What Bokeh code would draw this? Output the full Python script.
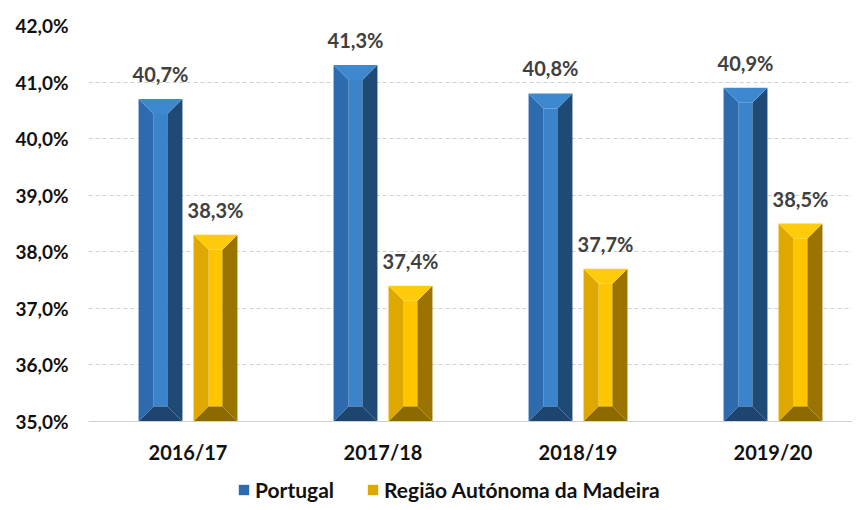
from bokeh.plotting import figure
from bokeh.layouts import column
from bokeh.models import Range1d, FixedTicker, ColumnDataSource, Legend, LegendItem
from bokeh.embed import file_html
from bokeh.resources import INLINE

# ---- data ----
categories = ["2016/17", "2017/18", "2018/19", "2019/20"]
portugal = [40.7, 41.3, 40.8, 40.9]
madeira = [38.3, 37.4, 37.7, 38.5]
series_names = ["Portugal", "Região Autónoma da Madeira"]
y_ticks = [35, 36, 37, 38, 39, 40, 41, 42]

BASE = 35.0
BAR_W = 0.225
OFFSETS = [-0.141, 0.141]
BX = 0.077   # horizontal bevel (x units)
BY = 0.265   # vertical bevel (y units)

# face colours
BLUE = dict(left="#2D6BAE", center="#3B83CA", right="#1F4A76", top="#3E88CF", bottom="#1E4570")
GOLD = dict(left="#DFA800", center="#FFC600", right="#9B7400", top="#FFCB0A", bottom="#8C6A00")

FONT = "Lato"
FS = "19px"
W = 852
LEFT = 88

p = figure(width=W, height=470, output_backend="svg", toolbar_location=None,
           x_range=Range1d(-0.0103, 3.9077), y_range=Range1d(BASE, 42),
           min_border_left=LEFT, min_border_right=0, min_border_top=25, min_border_bottom=49)
p.outline_line_color = None


def faces(vals, off):
    out = {k: ([], []) for k in ("left", "center", "right", "top", "bottom")}
    for i, v in enumerate(vals):
        c = i + 0.5 + off
        x0, x1 = c - BAR_W / 2, c + BAR_W / 2
        y0, y1 = BASE, v
        out["left"][0].append([x0, x0, x0 + BX, x0 + BX])
        out["left"][1].append([y0, y1, y1 - BY, y0 + BY])
        out["right"][0].append([x1, x1, x1 - BX, x1 - BX])
        out["right"][1].append([y0, y1, y1 - BY, y0 + BY])
        out["top"][0].append([x0, x1, x1 - BX, x0 + BX])
        out["top"][1].append([y1, y1, y1 - BY, y1 - BY])
        out["bottom"][0].append([x0, x1, x1 - BX, x0 + BX])
        out["bottom"][1].append([y0, y0, y0 + BY, y0 + BY])
        out["center"][0].append([x0 + BX, x1 - BX, x1 - BX, x0 + BX])
        out["center"][1].append([y0 + BY, y0 + BY, y1 - BY, y1 - BY])
    return out


for vals, off, cols in [(portugal, OFFSETS[0], BLUE), (madeira, OFFSETS[1], GOLD)]:
    f = faces(vals, off)
    for k in ("center", "left", "right", "top", "bottom"):
        xs, ys = f[k]
        p.patches(xs, ys, fill_color=cols[k], line_color=None)
    src = ColumnDataSource(dict(
        x=[i + 0.5 + off for i in range(len(vals))],
        y=vals,
        t=[f"{v:.1f}".replace(".", ",") + "%" for v in vals]))
    p.text(x="x", y="y", text="t", source=src, text_align="center",
           text_baseline="alphabetic", y_offset=-25,
           text_font={"value": FONT}, text_font_style="bold",
           text_font_size="20px", text_color="#404040")

# axes
p.yaxis.ticker = FixedTicker(ticks=y_ticks)
p.yaxis.major_label_overrides = {t: f"{t:.1f}".replace(".", ",") + "%" for t in y_ticks}
p.yaxis.axis_line_color = None
p.yaxis.major_tick_line_color = None
p.yaxis.major_tick_out = 0
p.yaxis.major_tick_in = 0
p.yaxis.minor_tick_line_color = None
p.yaxis.major_label_text_font = FONT
p.yaxis.major_label_text_font_style = "bold"
p.yaxis.major_label_text_font_size = FS
p.yaxis.major_label_text_color = "#111111"
p.yaxis.major_label_standoff = 20

p.xaxis.ticker = FixedTicker(ticks=[i + 0.5 for i in range(len(categories))])
p.xaxis.major_label_overrides = {i + 0.5: c for i, c in enumerate(categories)}
p.xaxis.axis_line_color = "#D0D0D0"
p.xaxis.axis_line_width = 1
p.xaxis.major_tick_line_color = None
p.xaxis.major_tick_out = 0
p.xaxis.major_tick_in = 0
p.xaxis.minor_tick_line_color = None
p.xaxis.major_label_text_font = FONT
p.xaxis.major_label_text_font_style = "bold"
p.xaxis.major_label_text_font_size = "20px"
p.xaxis.major_label_text_color = "#111111"
p.xaxis.major_label_standoff = 18

p.xgrid.grid_line_color = None
p.ygrid.grid_line_color = "#CFCFCF"
p.ygrid.grid_line_dash = "4 3"
p.ygrid.grid_line_width = 1

# ---- legend strip ----
lg = figure(width=W, height=32, output_backend="svg", toolbar_location=None,
            x_range=Range1d(0, 1), y_range=Range1d(0, 1),
            x_axis_type=None, y_axis_type=None,
            min_border_left=LEFT, min_border_right=0, min_border_top=0, min_border_bottom=0)
lg.outline_line_color = None
lg.xgrid.grid_line_color = None
lg.ygrid.grid_line_color = None
items = []
for name, cols in zip(series_names, [BLUE, GOLD]):
    r = lg.patches([[5, 6, 6, 5]], [[5, 5, 6, 6]], fill_color=cols["left"], line_color=None)
    items.append(LegendItem(label=name, renderers=[r]))
legend = Legend(items=items, orientation="horizontal", location=(237 - LEFT, 0),
                label_text_font=FONT, label_text_font_style="bold",
                label_text_font_size="21px", label_text_color="#111111",
                glyph_width=13, glyph_height=13, spacing=32, label_standoff=5,
                label_height=22, border_line_color=None, background_fill_alpha=0,
                margin=0, padding=0)
lg.add_layout(legend)

layout = column(p, lg, spacing=0)
open("out.html", "w").write(file_html(layout, INLINE))
